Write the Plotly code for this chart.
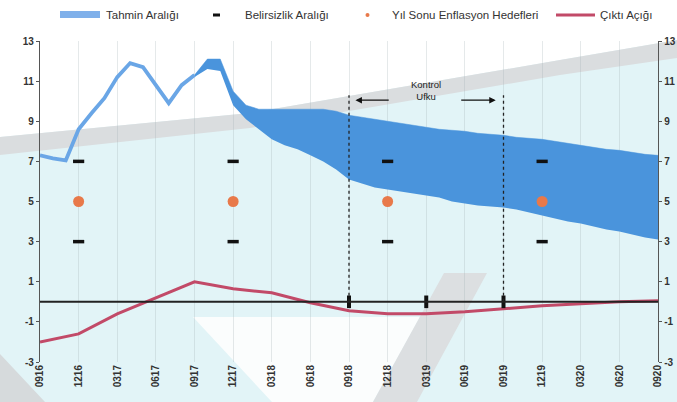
import plotly.graph_objects as go

# ---- figure geometry (pixels) ----
W, H = 677, 402
ML, MR, MT, MB = 40, 19, 41, 40
PW, PH = W - ML - MR, H - MT - MB

# ---- data ----
quarter_labels = ["0916", "1216", "0317", "0617", "0917", "1217", "0318", "0618", "0918",
                  "1218", "0319", "0619", "0919", "1219", "0320", "0620", "0920"]
quarter_months = list(range(0, 49, 3))

# realised annual CPI inflation (monthly, from 09/2016)
hist_months = list(range(0, 13))
hist_cpi = [7.3, 7.15, 7.05, 8.6, 9.4, 10.15, 11.2, 11.9, 11.7, 10.8, 9.9, 10.8, 11.3]

# forecast range (monthly, from 09/2017)
band_months = list(range(12, 49))
band_upper = [11.3, 12.1, 12.1, 10.5, 9.8, 9.6, 9.6, 9.6, 9.6, 9.6, 9.6, 9.5, 9.3,
              9.2, 9.1, 9.0, 8.9, 8.8, 8.7, 8.6, 8.55, 8.5, 8.4, 8.35, 8.3,
              8.2, 8.15, 8.1, 8.0, 7.9, 7.8, 7.7, 7.6, 7.55, 7.45, 7.35, 7.3]
band_lower = [11.2, 11.6, 11.5, 9.8, 9.1, 8.6, 8.1, 7.8, 7.6, 7.3, 7.0, 6.6, 6.1,
              5.9, 5.7, 5.6, 5.5, 5.4, 5.3, 5.2, 5.0, 4.9, 4.8, 4.75, 4.7,
              4.6, 4.45, 4.3, 4.15, 4.0, 3.9, 3.75, 3.6, 3.5, 3.35, 3.2, 3.1]

# year-end inflation targets and uncertainty bounds
target_months = [3, 15, 27, 39]
target_values = [5, 5, 5, 5]
uncert_upper = [7, 7, 7, 7]
uncert_lower = [3, 3, 3, 3]

# output gap (quarterly)
gap_months = quarter_months
output_gap = [-2.0, -1.6, -0.6, 0.2, 1.0, 0.65, 0.45, -0.05, -0.45, -0.6, -0.6,
              -0.5, -0.35, -0.2, -0.1, 0.0, 0.05]

# control horizon
horizon_marks = [24, 30, 36]
horizon_start, horizon_end = 24, 36

y_ticks = [-3, -1, 1, 3, 5, 7, 9, 11, 13]

BLUE_BAND = "#4a94dc"
BLUE_LINE = "#6aa6e6"
ORANGE = "#e8794a"
CRIMSON = "#c24a68"
CYAN_BG = "#e2f4f7"


def px(x):
    return (x - ML) / PW


def py(y):
    return (H - MB - y) / PH


def path(points):
    return "M " + " L ".join(f"{px(a):.4f},{py(b):.4f}" for a, b in points) + " Z"


fig = go.Figure()

# forecast range
fig.add_trace(go.Scatter(x=band_months, y=band_lower, mode="lines",
                         line=dict(width=0, color=BLUE_BAND), hoverinfo="skip"))
fig.add_trace(go.Scatter(x=band_months, y=band_upper, mode="lines", fill="tonexty",
                         fillcolor=BLUE_BAND, line=dict(width=0.5, color=BLUE_BAND)))
# realised inflation
fig.add_trace(go.Scatter(x=hist_months, y=hist_cpi, mode="lines",
                         line=dict(width=3.8, color=BLUE_LINE)))
# uncertainty bounds
fig.add_trace(go.Scatter(x=target_months * 2, y=uncert_upper + uncert_lower, mode="markers",
                         marker=dict(symbol="line-ew", size=8,
                                     line=dict(width=3.5, color="#111111"))))
# year-end targets
fig.add_trace(go.Scatter(x=target_months, y=target_values, mode="markers",
                         marker=dict(symbol="circle", size=11, color=ORANGE)))
# output gap (on the right-hand axis, same scale)
fig.add_trace(go.Scatter(x=gap_months, y=output_gap, mode="lines", yaxis="y2",
                         line=dict(width=3, color=CRIMSON)))
# control horizon marks on the zero line
fig.add_trace(go.Scatter(x=horizon_marks, y=[0] * len(horizon_marks), mode="markers",
                         yaxis="y2",
                         marker=dict(symbol="line-ns", size=9,
                                     line=dict(width=4, color="#111111"))))

shapes = [
    # page background design
    dict(type="path", xref="paper", yref="paper", layer="below",
         path=path([(0, 0), (W, 0), (W, 40), (560, 60), (250, 113), (0, 137)]),
         fillcolor="#ffffff", line=dict(width=0)),
    dict(type="path", xref="paper", yref="paper", layer="below",
         path=path([(0, 137), (250, 113), (560, 60), (W, 40), (W, 58), (560, 75),
                    (250, 128), (0, 155)]),
         fillcolor="#dadddf", line=dict(width=0)),
    dict(type="path", xref="paper", yref="paper", layer="below",
         path=path([(193, 317), (420, 317), (373, H), (272, H)]),
         fillcolor="#fbfdfd", line=dict(width=0)),
    dict(type="path", xref="paper", yref="paper", layer="below",
         path=path([(444, 273), (487, 273), (417, H), (373, H)]),
         fillcolor="#dcdfe1", line=dict(width=0)),
    dict(type="path", xref="paper", yref="paper", layer="below",
         path=path([(0, 354), (45, H), (0, H)]),
         fillcolor="#d6dadc", line=dict(width=0)),
    # zero line
    dict(type="line", xref="x", yref="y", x0=0, x1=48, y0=0, y1=0,
         line=dict(color="#222222", width=2)),
    # control horizon bounds
    dict(type="line", xref="x", yref="y", x0=horizon_start, x1=horizon_start, y0=0, y1=10.3,
         line=dict(color="#222222", width=1.3, dash="dot")),
    dict(type="line", xref="x", yref="y", x0=horizon_end, x1=horizon_end, y0=0, y1=10.3,
         line=dict(color="#222222", width=1.3, dash="dot")),
    # legend swatches
    dict(type="rect", xref="paper", yref="paper", x0=px(60), x1=px(100), y0=py(18), y1=py(11),
         fillcolor="#7fb0ea", line=dict(width=0)),
    dict(type="rect", xref="paper", yref="paper", x0=px(213), x1=px(220), y0=py(16.5), y1=py(13.5),
         fillcolor="#111111", line=dict(width=0)),
    dict(type="circle", xref="paper", yref="paper", x0=px(365.5), x1=px(369.5), y0=py(17), y1=py(13),
         fillcolor=ORANGE, line=dict(width=0)),
    dict(type="line", xref="paper", yref="paper", x0=px(556), x1=px(595), y0=py(15), y1=py(15),
         line=dict(color=CRIMSON, width=3)),
]

legend_font = dict(family="Liberation Sans, Arial", size=11.5, color="#333333")
annotations = [
    dict(xref="paper", yref="paper", x=px(104), y=py(15), text="Tahmin Aralığı",
         showarrow=False, xanchor="left", yanchor="middle", font=legend_font),
    dict(xref="paper", yref="paper", x=px(243), y=py(15), text="Belirsizlik Aralığı",
         showarrow=False, xanchor="left", yanchor="middle", font=legend_font),
    dict(xref="paper", yref="paper", x=px(390), y=py(15), text="Yıl Sonu Enflasyon Hedefleri",
         showarrow=False, xanchor="left", yanchor="middle", font=legend_font),
    dict(xref="paper", yref="paper", x=px(598), y=py(15), text="Çıktı Açığı",
         showarrow=False, xanchor="left", yanchor="middle", font=legend_font),
    # control horizon label and arrows
    dict(x=30, y=10.55, xref="x", yref="y", text="Kontrol<br>Ufku", showarrow=False,
         font=dict(family="Liberation Sans, Arial", size=9.5, color="#222222")),
    dict(x=24.5, y=10.05, ax=27.2, ay=10.05, xref="x", yref="y", axref="x", ayref="y",
         text="", showarrow=True, arrowhead=2, arrowsize=1, arrowwidth=1.3, arrowcolor="#111111"),
    dict(x=35.4, y=10.05, ax=32.6, ay=10.05, xref="x", yref="y", axref="x", ayref="y",
         text="", showarrow=True, arrowhead=2, arrowsize=1, arrowwidth=1.3, arrowcolor="#111111"),
]

tick_font = dict(family="Liberation Sans, Arial", size=10, color="#333333", weight="bold")
yaxis_common = dict(range=[-3, 13], tickvals=y_ticks, ticktext=[str(v) for v in y_ticks],
                    showgrid=False, zeroline=False, showline=True, linecolor="#555555",
                    linewidth=1.3, ticks="outside", ticklen=3, tickcolor="#555555",
                    tickfont=tick_font, fixedrange=True, automargin=False)

fig.update_layout(
    width=W, height=H,
    margin=dict(l=ML, r=MR, t=MT, b=MB, pad=0, autoexpand=False),
    paper_bgcolor=CYAN_BG, plot_bgcolor="rgba(0,0,0,0)",
    showlegend=False,
    xaxis=dict(range=[0, 48], tickvals=quarter_months, ticktext=quarter_labels,
               tickangle=-90, tickfont=tick_font, showgrid=True,
               gridcolor="rgba(160,175,180,0.28)", gridwidth=1, zeroline=False,
               showline=False, ticks="", automargin=False),
    yaxis=dict(side="left", **yaxis_common),
    yaxis2=dict(side="right", overlaying="y", **yaxis_common),
    shapes=shapes,
    annotations=annotations,
)

fig.write_html("out.html")
